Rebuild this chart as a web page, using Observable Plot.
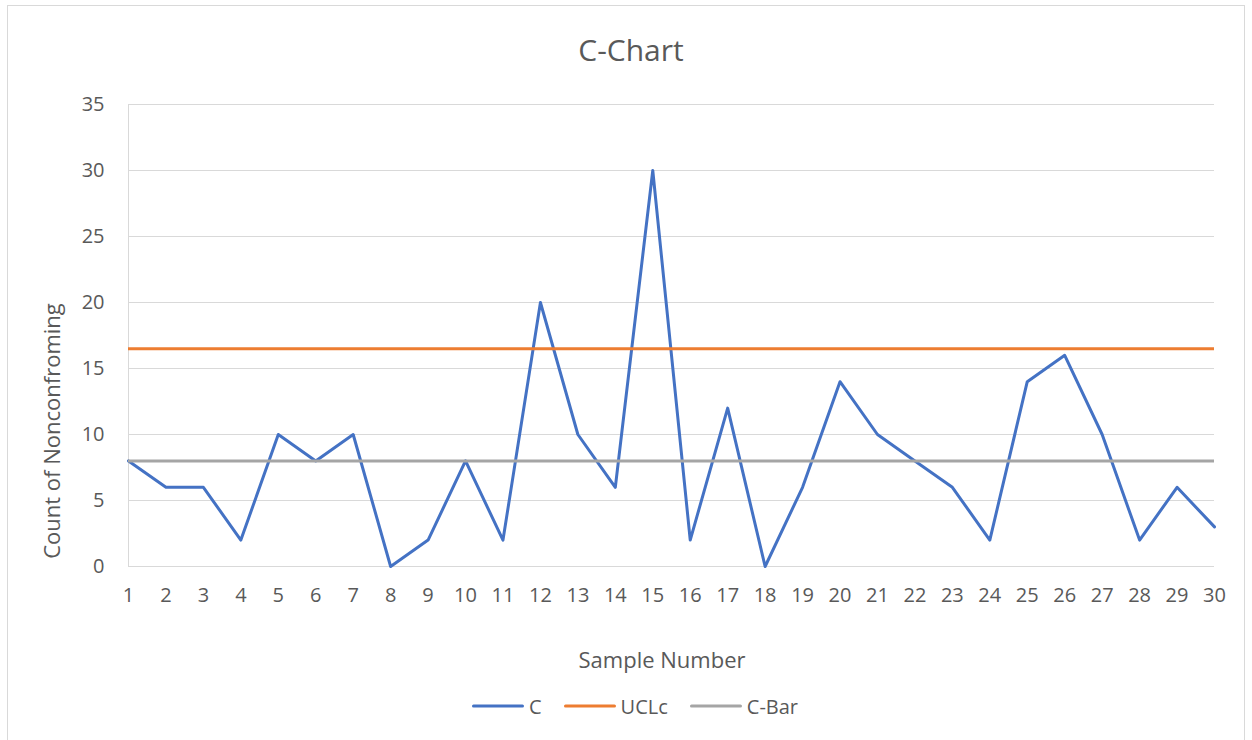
<!DOCTYPE html>
<html><head><meta charset="utf-8">
<script src="https://cdn.jsdelivr.net/npm/d3@7"></script>
<script src="https://cdn.jsdelivr.net/npm/@observablehq/plot@0.6"></script>
<style>
body{margin:0;background:#fff;font-family:"Open Sans",sans-serif;color:#595959;width:1252px;height:740px;overflow:hidden;position:relative}
#frame{position:absolute;left:7px;top:5px;width:1238px;height:745px;border:1px solid #d9d9d9;box-sizing:border-box}
#title{position:absolute;left:631px;top:49px;transform:translate(-50%,-50%);font-size:30px;white-space:nowrap}
#chart{position:absolute;left:0;top:80px}
#ylab{position:absolute;left:51px;top:431px;transform:translate(-50%,-50%) rotate(-90deg);font-size:22px;white-space:nowrap}
#xlab{position:absolute;left:662px;top:659px;transform:translate(-50%,-50%);font-size:22px;white-space:nowrap}
#legend{position:absolute;left:635px;top:706px;transform:translate(-50%,-50%);display:flex;align-items:center;gap:22px;font-size:20px;white-space:nowrap}
.item{display:flex;align-items:center;gap:5px}
.sw{width:52px;height:3px;border-radius:1.5px}
</style></head>
<body>
<div id="frame"></div>
<div id="title">C-Chart</div>
<div id="chart"></div>
<div id="ylab">Count of Nonconfroming</div>
<div id="xlab">Sample Number</div>
<div id="legend"></div>
<script>
const samples = [1,2,3,4,5,6,7,8,9,10,11,12,13,14,15,16,17,18,19,20,21,22,23,24,25,26,27,28,29,30];
const cValues = [8,6,6,2,10,8,10,0,2,8,2,20,10,6,30,2,12,0,6,14,10,8,6,2,14,16,10,2,6,3];
const ucl = 16.49;
const cBar = 8;
const yTicks = [0,5,10,15,20,25,30,35];
const seriesNames = ["C","UCLc","C-Bar"];
const seriesColors = ["#4472C4","#ED7D31","#A5A5A5"];

const data = samples.map((s,i)=>({sample:s, c:cValues[i]}));
const first = samples[0], last = samples[samples.length-1];

const chart = Plot.plot({
  width:1252, height:610,
  marginTop:24, marginBottom:124, marginLeft:128, marginRight:38,
  style:{fontFamily:"'Open Sans',sans-serif", fontSize:"20px", color:"#595959", background:"transparent"},
  x:{domain:[first,last], label:null},
  y:{domain:[0,35], label:null},
  marks:[
    Plot.gridY(yTicks,{stroke:"#d9d9d9", strokeOpacity:1, strokeWidth:1}),
    Plot.ruleX([first],{y1:0, y2:35, stroke:"#d9d9d9", strokeWidth:1}),
    Plot.axisY(yTicks,{tickSize:0, tickPadding:24, fill:"#595959", fontSize:20, label:null}),
    Plot.axisX(samples,{tickSize:0, tickPadding:21, fill:"#595959", fontSize:20, label:null, tickFormat:d=>String(d)}),
    Plot.line(data,{x:"sample", y:"c", stroke:seriesColors[0], strokeWidth:3, strokeLinejoin:"round"}),
    Plot.ruleY([ucl],{x1:first, x2:last, stroke:seriesColors[1], strokeWidth:3}),
    Plot.ruleY([cBar],{x1:first, x2:last, stroke:seriesColors[2], strokeWidth:3})
  ]
});
document.getElementById("chart").appendChild(chart);

const leg = document.getElementById("legend");
seriesNames.forEach((n,i)=>{
  const it = document.createElement("div"); it.className="item";
  const sw = document.createElement("div"); sw.className="sw"; sw.style.background=seriesColors[i];
  const t = document.createElement("span"); t.textContent=n;
  it.appendChild(sw); it.appendChild(t); leg.appendChild(it);
});
</script>
</body></html>
